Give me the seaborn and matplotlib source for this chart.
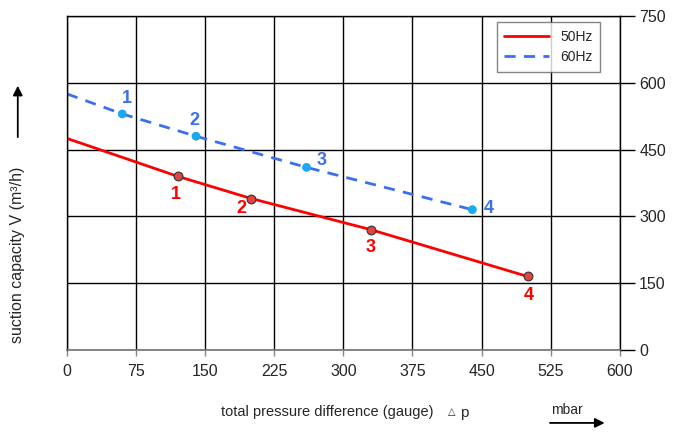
import seaborn as sns
import matplotlib.pyplot as plt
import pandas as pd

sns.set_theme(style="white")
plt.rcParams['font.family'] = ['Liberation Sans', 'DejaVu Sans']

# curve data (first entry = start of curve at 0 mbar, no marker)
x_50 = [0, 120, 200, 330, 500]
y_50 = [475, 390, 340, 270, 165]
x_60 = [0, 60, 140, 260, 440]
y_60 = [575, 530, 480, 410, 315]
point_labels = ["1", "2", "3", "4"]

x_ticks = [0, 75, 150, 225, 300, 375, 450, 525, 600]
y_ticks = [0, 150, 300, 450, 600, 750]

red = "#ff0000"
blue = "#3b6ff0"

# label offsets in points
off_50 = [(-1, -13), (-7, -7), (0, -13), (1, -14)]
off_60 = [(3, 11), (-1, 11), (11, 5), (12, 1)]

df50 = pd.DataFrame({"dp": x_50, "V": y_50})
df60 = pd.DataFrame({"dp": x_60, "V": y_60})

fig = plt.figure(figsize=(6.84, 4.32), dpi=100)
ax = fig.add_axes([0.098, 0.19, 0.808, 0.773])

sns.lineplot(data=df50, x="dp", y="V", ax=ax, color=red, linewidth=2, label="50Hz")
sns.lineplot(data=df60, x="dp", y="V", ax=ax, color=blue, linewidth=2,
             linestyle=(0, (4, 3)), label="60Hz")
sns.scatterplot(data=df50.iloc[1:], x="dp", y="V", ax=ax, color="#e24444",
                edgecolor="#333333", linewidth=0.8, s=40, zorder=5, legend=False)
sns.scatterplot(data=df60.iloc[1:], x="dp", y="V", ax=ax, color="#1aa8f0",
                edgecolor="none", s=40, zorder=5, legend=False)

for i, lab in enumerate(point_labels):
    ax.annotate(lab, (x_50[i + 1], y_50[i + 1]), xytext=off_50[i], textcoords="offset points",
                ha="center", va="center", color=red, fontsize=13, fontweight="bold")
    ax.annotate(lab, (x_60[i + 1], y_60[i + 1]), xytext=off_60[i], textcoords="offset points",
                ha="center", va="center", color=blue, fontsize=13, fontweight="bold")

ax.set_xlim(0, 600)
ax.set_ylim(0, 750)
ax.set_xticks(x_ticks)
ax.set_yticks(y_ticks)
ax.yaxis.tick_right()
ax.grid(True, color="black", linewidth=1)
ax.tick_params(axis="y", direction="out", length=11, width=1, color="black",
               labelsize=11.5, pad=3, right=True, left=False)
ax.tick_params(axis="x", direction="out", length=4, width=1, color="#888888",
               labelsize=11.5, pad=6, bottom=True)
for side in ["left", "right", "top"]:
    ax.spines[side].set_color("black")
    ax.spines[side].set_linewidth(1)
ax.spines["bottom"].set_color("#777777")
ax.set_xlabel("")
ax.set_ylabel("")

leg = ax.legend(loc="upper right", bbox_to_anchor=(0.977, 1.002), fontsize=10,
                frameon=True, fancybox=False, edgecolor="#666666", handlelength=3.2,
                borderpad=0.55, labelspacing=0.45)
leg.get_frame().set_linewidth(1)

fig.text(0.478, 0.047, "total pressure difference (gauge)", ha="center", va="center", fontsize=10.5)
fig.text(0.66, 0.047, "\u25b3", ha="center", va="center", fontsize=7)
fig.text(0.678, 0.043, "p", ha="center", va="center", fontsize=11)
fig.text(0.829, 0.052, "mbar", ha="center", va="center", fontsize=10)
fig.add_artist(plt.Annotation("", xy=(0.888, 0.021), xytext=(0.8, 0.021), xycoords="figure fraction",
                              arrowprops=dict(arrowstyle="-|>", color="black", lw=1.3, mutation_scale=14)))
fig.text(0.026, 0.41, "suction capacity V (m\u00b3/h)", ha="center", va="center",
         rotation=90, fontsize=11.5)
fig.add_artist(plt.Annotation("", xy=(0.026, 0.808), xytext=(0.026, 0.676), xycoords="figure fraction",
                              arrowprops=dict(arrowstyle="-|>", color="black", lw=1.3, mutation_scale=14)))

fig.savefig("out.png", dpi=100)
